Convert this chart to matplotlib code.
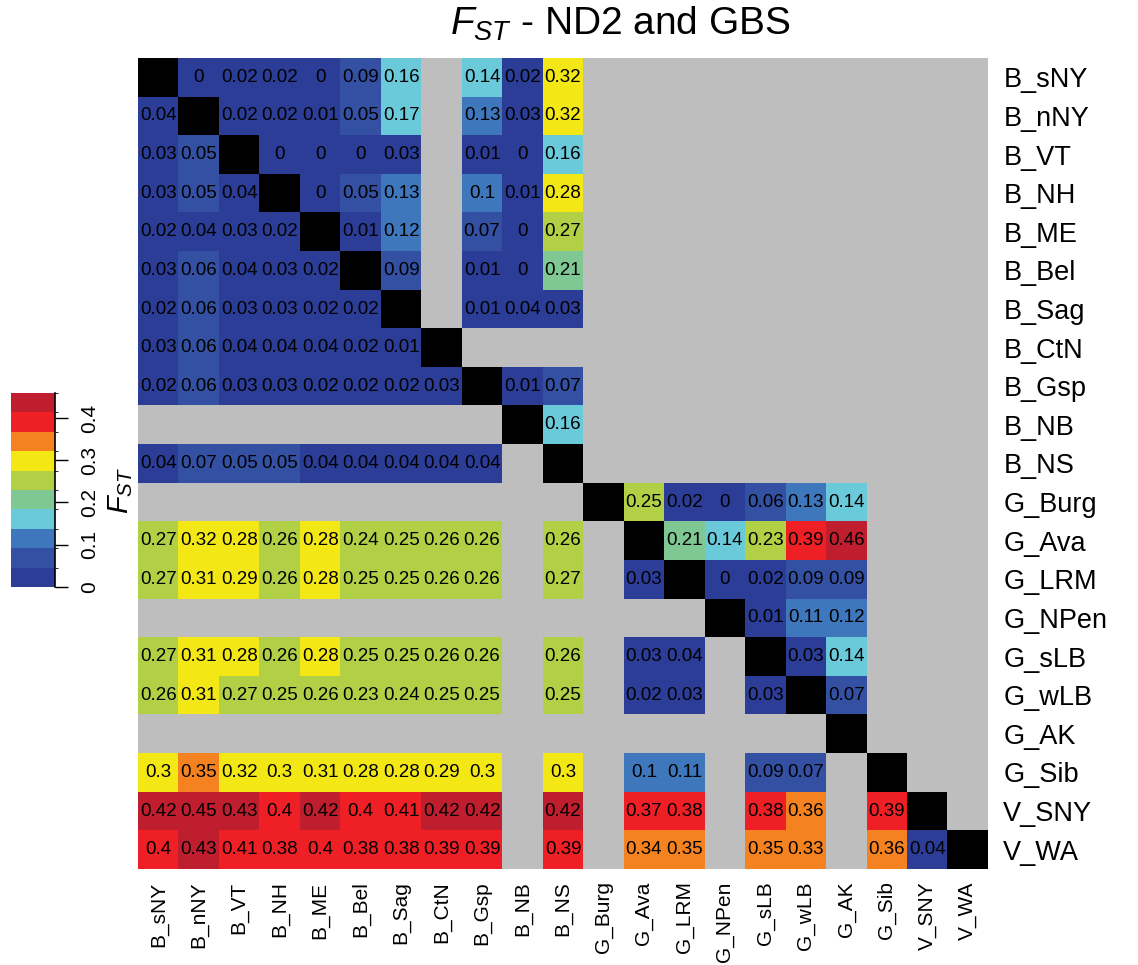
import matplotlib
matplotlib.use("Agg")
import matplotlib.pyplot as plt
import numpy as np
from matplotlib.colors import ListedColormap, BoundaryNorm
from matplotlib.cm import ScalarMappable

plt.rcParams['font.family'] = 'Liberation Sans'
plt.rcParams['mathtext.fontset'] = 'custom'
plt.rcParams['mathtext.rm'] = 'Liberation Sans'
plt.rcParams['mathtext.it'] = 'Liberation Sans:italic'

# population labels (rows top->bottom, columns left->right)
pops = ['B_sNY', 'B_nNY', 'B_VT', 'B_NH', 'B_ME', 'B_Bel', 'B_Sag', 'B_CtN',
        'B_Gsp', 'B_NB', 'B_NS', 'G_Burg', 'G_Ava', 'G_LRM', 'G_NPen', 'G_sLB',
        'G_wLB', 'G_AK', 'G_Sib', 'V_SNY', 'V_WA']

# lower triangle: row i holds columns 0..i-1 (None = no data)
lower = [
    [],
    [0.04],
    [0.03, 0.05],
    [0.03, 0.05, 0.04],
    [0.02, 0.04, 0.03, 0.02],
    [0.03, 0.06, 0.04, 0.03, 0.02],
    [0.02, 0.06, 0.03, 0.03, 0.02, 0.02],
    [0.03, 0.06, 0.04, 0.04, 0.04, 0.02, 0.01],
    [0.02, 0.06, 0.03, 0.03, 0.02, 0.02, 0.02, 0.03],
    [None] * 9,
    [0.04, 0.07, 0.05, 0.05, 0.04, 0.04, 0.04, 0.04, 0.04, None],
    [None] * 11,
    [0.27, 0.32, 0.28, 0.26, 0.28, 0.24, 0.25, 0.26, 0.26, None, 0.26, None],
    [0.27, 0.31, 0.29, 0.26, 0.28, 0.25, 0.25, 0.26, 0.26, None, 0.27, None, 0.03],
    [None] * 14,
    [0.27, 0.31, 0.28, 0.26, 0.28, 0.25, 0.25, 0.26, 0.26, None, 0.26, None, 0.03, 0.04, None],
    [0.26, 0.31, 0.27, 0.25, 0.26, 0.23, 0.24, 0.25, 0.25, None, 0.25, None, 0.02, 0.03, None, 0.03],
    [None] * 17,
    [0.3, 0.35, 0.32, 0.3, 0.31, 0.28, 0.28, 0.29, 0.3, None, 0.3, None, 0.1, 0.11, None, 0.09, 0.07, None],
    [0.42, 0.45, 0.43, 0.4, 0.42, 0.4, 0.41, 0.42, 0.42, None, 0.42, None, 0.37, 0.38, None, 0.38, 0.36, None, 0.39],
    [0.4, 0.43, 0.41, 0.38, 0.4, 0.38, 0.38, 0.39, 0.39, None, 0.39, None, 0.34, 0.35, None, 0.35, 0.33, None, 0.36, 0.04],
]

# upper triangle: row i holds columns i+1.. (missing tail = no data)
upper = [
    [0, 0.02, 0.02, 0, 0.09, 0.16, None, 0.14, 0.02, 0.32],
    [0.02, 0.02, 0.01, 0.05, 0.17, None, 0.13, 0.03, 0.32],
    [0, 0, 0, 0.03, None, 0.01, 0, 0.16],
    [0, 0.05, 0.13, None, 0.1, 0.01, 0.28],
    [0.01, 0.12, None, 0.07, 0, 0.27],
    [0.09, None, 0.01, 0, 0.21],
    [None, 0.01, 0.04, 0.03],
    [],
    [0.01, 0.07],
    [0.16],
    [],
    [0.25, 0.02, 0, 0.06, 0.13, 0.14],
    [0.21, 0.14, 0.23, 0.39, 0.46],
    [0, 0.02, 0.09, 0.09],
    [0.01, 0.11, 0.12],
    [0.03, 0.14],
    [0.07],
    [], [], [], [],
]

colors = ['#2B3D97', '#3450A2', '#3E77BC', '#6BCAD9', '#80C893',
          '#B2D045', '#F3E816', '#F58220', '#EE2026', '#BE1E2D']

n = len(pops)
mat = np.full((n, n), np.nan)
for i, row in enumerate(lower):
    for j, v in enumerate(row):
        if v is not None:
            mat[i, j] = v
for i, row in enumerate(upper):
    for k, v in enumerate(row):
        if v is not None:
            mat[i, i + 1 + k] = v

cmap = ListedColormap(colors)
cmap.set_bad('#BEBEBE')
bounds = np.linspace(0, 0.459, 11)
norm = BoundaryNorm(bounds, cmap.N)

fig = plt.figure(figsize=(11.38, 9.65), dpi=100)
ax = fig.add_axes([0.1213, 0.0995, 0.7469, 0.8404])
ax.imshow(np.ma.masked_invalid(mat), cmap=cmap, norm=norm, aspect='auto',
          interpolation='nearest')
diag = np.where(np.eye(n) > 0, 1.0, np.nan)
ax.imshow(np.ma.masked_invalid(diag), cmap=ListedColormap(['black']),
          aspect='auto', interpolation='nearest')

for i in range(n):
    for j in range(n):
        v = mat[i, j]
        if not np.isnan(v):
            ax.text(j, i, f'{v:g}', ha='center', va='center', fontsize=13.5,
                    color='black')

for s in ax.spines.values():
    s.set_visible(False)
ax.set_xticks(range(n))
ax.set_xticklabels(pops, rotation=90, fontsize=15)
ax.set_yticks(range(n))
ax.yaxis.tick_right()
ax.set_yticklabels(pops, fontsize=19.5)
ax.tick_params(axis='x', length=0, pad=9)
ax.tick_params(axis='y', length=0, pad=11)

fig.text(0.545, 0.975, r'$F_{ST}$ - ND2 and GBS', ha='center', va='center',
         fontsize=28)

# colour key
cax = fig.add_axes([0.0097, 0.3917, 0.0387, 0.201])
cb = fig.colorbar(ScalarMappable(norm=norm, cmap=cmap), cax=cax,
                  ticks=[0, 0.1, 0.2, 0.3, 0.4])
cb.outline.set_visible(False)
cax.plot([1, 1], [0, 0.459], color='black', lw=1.2, clip_on=False)
cax.set_yticklabels(['0', '0.1', '0.2', '0.3', '0.4'])
cax.tick_params(length=9, width=1, labelsize=15, pad=9)
for lbl in cax.get_yticklabels():
    lbl.set_rotation(90)
    lbl.set_va('center')
cb.set_label(r'$F_{ST}$', fontsize=21, rotation=90, labelpad=5)

fig.savefig('out.png', dpi=100)
